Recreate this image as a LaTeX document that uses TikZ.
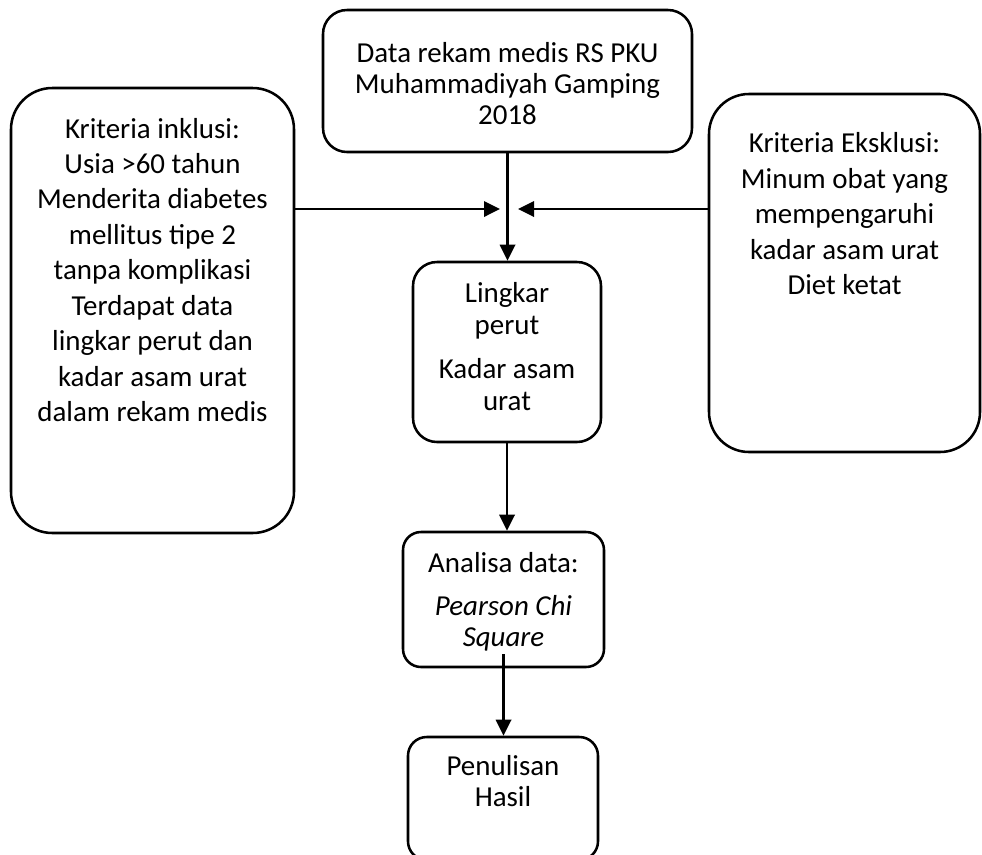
\documentclass[tikz,border=0pt]{standalone}
\usepackage{fontspec}
\setmainfont{Carlito}
\usepackage{xcolor}
\usepackage{tikz}
\usetikzlibrary{positioning,arrows.meta}

\tikzset{
  flowbox/.style={draw, line width=1.9pt, inner sep=0pt, font=\fontsize{21.7}{23.6}\selectfont},
  sidebox/.style={draw, line width=1.9pt, inner sep=0pt, font=\fontsize{21.7}{26.6}\selectfont},
  flowarrow/.style={-{Triangle[length=12pt,width=11.5pt]}, line width=1.8pt}
}

\begin{document}
\begin{tikzpicture}[x=0.75pt, y=-0.75pt]
\useasboundingbox (0,0) rectangle (982,854);

\node[flowbox, rounded corners=18pt] (data) at (507.5,81) {\parbox[c][106.5pt][t]{276.75pt}{\centering\vspace*{22.5pt}\strut Data rekam medis RS PKU\\Muhammadiyah Gamping\\2018}};

\node[sidebox, rounded corners=31pt] (inklusi) at (152.5,310.5) {\parbox[c][333.75pt][t]{212.25pt}{\centering\vspace*{18.9pt}\strut Kriteria inklusi:\\Usia >60 tahun\\Menderita diabetes\\mellitus tipe 2\\tanpa komplikasi\\Terdapat data\\lingkar perut dan\\kadar asam urat\\dalam rekam medis}};
\node[sidebox, rounded corners=30pt] (eksklusi) at (844.5,273) {\parbox[c][268.5pt][t]{203.25pt}{\centering\vspace*{25.6pt}\strut Kriteria Eksklusi:\\Minum obat yang\\mempengaruhi\\kadar asam urat\\Diet ketat}};

\node[flowbox, rounded corners=18pt] (lingkar) at (507,352) {\parbox[c][135pt][t]{141pt}{\centering\vspace*{14pt}\strut Lingkar\\perut\\[10pt]Kadar asam\\urat}};
\node[flowbox, rounded corners=13.5pt] (analisa) at (503.5,599.5) {\parbox[c][101.25pt][t]{150.75pt}{\centering\vspace*{14.2pt}\strut Analisa data:\\[8pt]\textit{Pearson Chi}\\\textit{Square}}};
\node[flowbox, rounded corners=14pt] (hasil) at (503,798.5) {\parbox[c][92.25pt][t]{142.5pt}{\centering\vspace*{12pt}\strut Penulisan\\Hasil}};

\coordinate (inTip) at (500,209);
\coordinate (exTip) at (518,209);

\draw[flowarrow] (data.south) -- (data.south |- lingkar.north);
\draw[flowarrow] (inklusi.east |- inTip) -- (inTip);
\draw[flowarrow] (eksklusi.west |- exTip) -- (exTip);
\draw[flowarrow] (lingkar.south) -- (lingkar.south |- analisa.north);
\draw[flowarrow] ([yshift=10.5pt]analisa.south) -- (analisa.south |- hasil.north);

\end{tikzpicture}
\end{document}
